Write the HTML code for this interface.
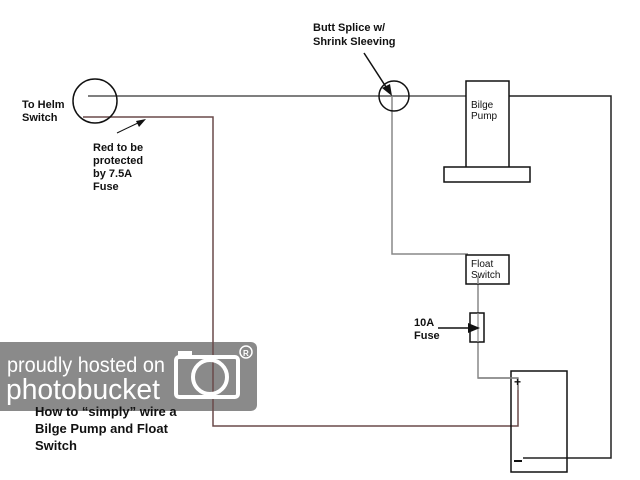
<!DOCTYPE html>
<html><head><style>
html,body{margin:0;padding:0;background:#fff;}
svg{display:block;}
text{font-family:"Liberation Sans",Arial,sans-serif;font-weight:bold;}
</style></head><body>
<svg width="640" height="480" viewBox="0 0 640 480" xmlns="http://www.w3.org/2000/svg">
<rect width="640" height="480" fill="#fff"/>
<g fill="none" stroke-width="1.5">
<polyline points="88,96 466,96" stroke="#555"/>
<polyline points="508,96 611,96 611,458 523,458" stroke="#222"/>
<polyline points="83,117 213,117 213,426 518,426 518,385" stroke="#6a4a4a"/>
<polyline points="392,96 392,254 468,254" stroke="#888"/>
<polyline points="478,280 478,378 518,378" stroke="#888"/>
</g>
<circle cx="95" cy="101" r="22" fill="none" stroke="#111" stroke-width="1.5"/>
<circle cx="394" cy="96" r="15" fill="none" stroke="#111" stroke-width="1.5"/>
<line x1="364" y1="53" x2="388" y2="90" stroke="#111" stroke-width="1.5"/>
<polygon points="392,96 382,88 390,84" fill="#111"/>
<rect x="466" y="81" width="43" height="87" fill="#fff" stroke="#111" stroke-width="1.5"/>
<rect x="444" y="167" width="86" height="15" fill="#fff" stroke="#111" stroke-width="1.5"/>
<text x="471" y="108" font-size="10" fill="#111" style="font-weight:normal">Bilge</text>
<text x="471" y="119" font-size="10" fill="#111" style="font-weight:normal">Pump</text>
<rect x="466" y="255" width="43" height="29" fill="#fff" stroke="#111" stroke-width="1.5"/>
<text x="471" y="267" font-size="10" fill="#111" style="font-weight:normal">Float</text>
<text x="471" y="278" font-size="10" fill="#111" style="font-weight:normal">Switch</text>
<line x1="478" y1="276" x2="478" y2="284" stroke="#888" stroke-width="1.5"/>
<rect x="470" y="313" width="14" height="29" fill="#fff" stroke="#111" stroke-width="1.5"/>
<line x1="478" y1="313" x2="478" y2="342" stroke="#888" stroke-width="1.2"/>
<line x1="438" y1="328" x2="472" y2="328" stroke="#111" stroke-width="1.5"/>
<polygon points="480,328 468,323 468,333" fill="#111"/>
<rect x="511" y="371" width="56" height="101" fill="none" stroke="#111" stroke-width="1.5"/>
<polyline points="478,378 518,378 518,390" fill="none" stroke="#888" stroke-width="1.5"/>
<text x="514" y="386" font-size="12" fill="#111">+</text>
<line x1="514" y1="461" x2="522" y2="461" stroke="#111" stroke-width="2"/>
<text x="22" y="108" font-size="11" fill="#111">To Helm</text>
<text x="22" y="121" font-size="11" fill="#111">Switch</text>
<line x1="117" y1="133" x2="140" y2="122" stroke="#111" stroke-width="1"/>
<polygon points="146,119 136,121 139,127" fill="#111"/>
<text x="93" y="151" font-size="11" fill="#111">Red to be</text>
<text x="93" y="164" font-size="11" fill="#111">protected</text>
<text x="93" y="177" font-size="11" fill="#111">by 7.5A</text>
<text x="93" y="190" font-size="11" fill="#111">Fuse</text>
<text x="313" y="31" font-size="11" fill="#111">Butt Splice w/</text>
<text x="313" y="45" font-size="11" fill="#111">Shrink Sleeving</text>
<text x="414" y="326" font-size="11" fill="#111">10A</text>
<text x="414" y="339" font-size="11" fill="#111">Fuse</text>
<rect x="-6" y="342" width="263" height="69" rx="6" fill="#8a8a8a"/>
<line x1="213" y1="342" x2="213" y2="411" stroke="#6a4a4a" stroke-width="1.5"/>
<text x="7" y="372" font-size="21" fill="#fff" style="font-weight:normal" textLength="158" lengthAdjust="spacingAndGlyphs">proudly hosted on</text>
<text x="6" y="399" font-size="29" fill="#fff" style="font-weight:normal" textLength="154" lengthAdjust="spacingAndGlyphs">photobucket</text>
<g fill="none" stroke="#fff" stroke-width="4">
<rect x="176" y="357" width="62" height="40" rx="3"/>
<circle cx="210" cy="377" r="17"/>
</g>
<rect x="178" y="351" width="14" height="8" fill="#fff"/>
<circle cx="246" cy="352" r="6" fill="none" stroke="#fff" stroke-width="1.5"/>
<text x="243" y="356" font-size="8" fill="#fff">R</text>
<text x="35" y="416" font-size="13" fill="#111">How to “simply” wire a</text>
<text x="35" y="433" font-size="13" fill="#111">Bilge Pump and Float</text>
<text x="35" y="450" font-size="13" fill="#111">Switch</text>
</svg>
</body></html>
